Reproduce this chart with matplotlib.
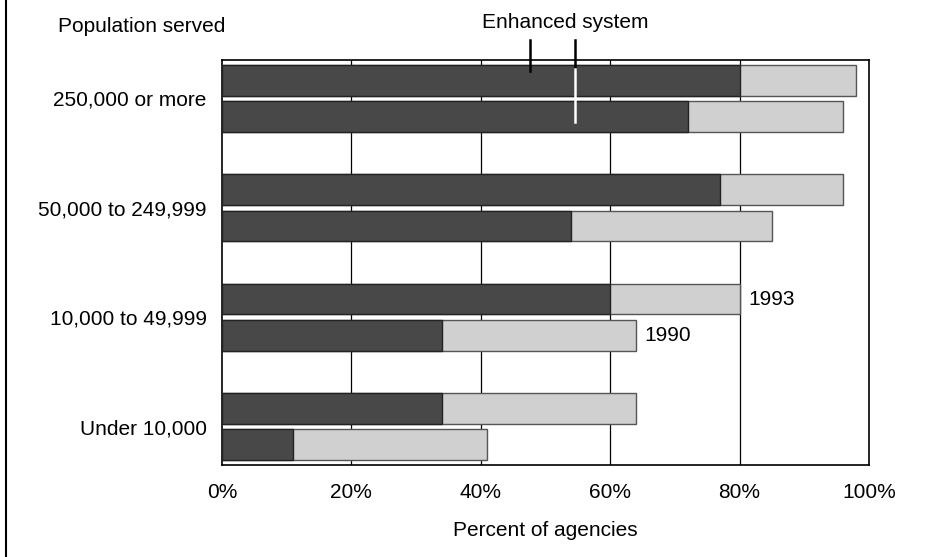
import matplotlib
matplotlib.use("Agg")
import matplotlib.pyplot as plt
from matplotlib.lines import Line2D
import numpy as np

categories = ["250,000 or more", "50,000 to 249,999", "10,000 to 49,999", "Under 10,000"]
enhanced_1993 = [80, 77, 60, 34]
total_1993 = [98, 96, 80, 64]
enhanced_1990 = [72, 54, 34, 11]
total_1990 = [96, 85, 64, 41]
xticks = [0, 20, 40, 60, 80, 100]

dark = "#484848"
light = "#d0d0d0"

plt.rcParams["font.family"] = ["Liberation Sans", "DejaVu Sans"]
plt.rcParams["font.size"] = 15

fig = plt.figure(figsize=(9.46, 5.57), dpi=100)
ax = fig.add_axes([222 / 946, 1 - 465 / 557, 647 / 946, 405 / 557])

y = np.arange(len(categories))
h = 0.28
off = 0.165

for tot, enh, yy in [(total_1993, enhanced_1993, y - off), (total_1990, enhanced_1990, y + off)]:
    ax.barh(yy, tot, height=h, color=light, edgecolor="#555555", linewidth=1, zorder=2)
    ax.barh(yy, enh, height=h, color=dark, edgecolor="#222222", linewidth=1, zorder=3)

ax.set_xlim(0, 100)
ax.set_ylim(3.35, -0.35)
ax.set_xticks(xticks)
ax.set_xticklabels([f"{t}%" for t in xticks])
ax.set_yticks(y)
ax.set_yticklabels(categories)
ax.tick_params(axis="y", length=0, pad=11)
ax.tick_params(axis="x", length=0, pad=13)
for t in xticks[1:-1]:
    ax.axvline(t, color="black", linewidth=0.9, zorder=1)
for s in ax.spines.values():
    s.set_linewidth(1.2)

ax.set_xlabel("Percent of agencies", labelpad=14)

# year labels next to the 10,000 to 49,999 bars
ax.text(total_1993[2] + 1.3, 2 - off, "1993", va="center", ha="left")
ax.text(total_1990[2] + 1.3, 2 + off, "1990", va="center", ha="left")

fig.text(58 / 946, 1 - 27 / 557, "Population served", ha="left", va="center")
fig.text(565 / 946, 1 - 22 / 557, "Enhanced system", ha="center", va="center")

# leader lines into the enhanced (dark) segments
ax.plot([47.6, 47.6], [-0.53, -0.25], color="black", linewidth=1.8, clip_on=False, zorder=5)
ax.plot([54.6, 54.6], [-0.53, -0.27], color="black", linewidth=1.8, clip_on=False, zorder=5)
ax.plot([54.6, 54.6], [-0.27, 0.22], color="white", linewidth=1.8, clip_on=False, zorder=5)

# thin frame line on the left edge of the picture
fig.add_artist(Line2D([6 / 946, 6 / 946], [0, 1], color="black", linewidth=1.5))

fig.savefig("out.png", dpi=100)
